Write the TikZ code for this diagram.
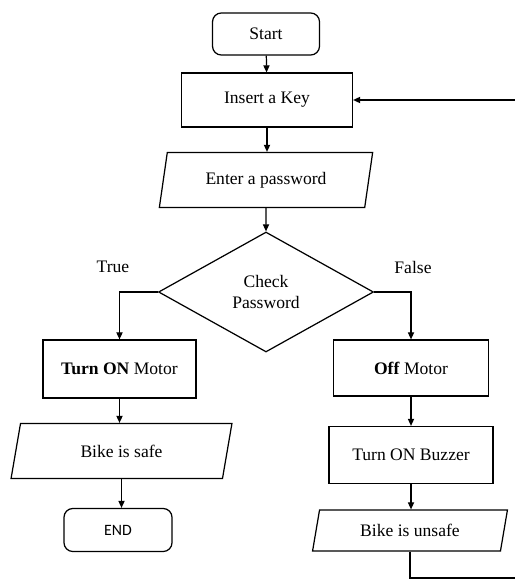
\documentclass[tikz,border=0pt]{standalone}
\usepackage{fontspec}
\setmainfont{Liberation Serif}
\newfontfamily\calibri{Carlito}
\usetikzlibrary{positioning,arrows.meta,shapes.geometric}

\begin{document}
\begin{tikzpicture}[x=0.02cm,y=-0.02cm,line width=0.7pt,
    every node/.style={font=\fontsize{10}{12}\selectfont},
    box/.style={draw,rectangle,inner sep=0},
    term/.style={draw,rectangle,rounded corners=5pt,inner sep=0},
    io/.style={draw,trapezium,trapezium left angle=73,trapezium right angle=107,
      trapezium stretches=true,inner sep=0},
    arr/.style={-{Triangle[length=4pt,width=3.5pt]}}]
  % pixel coordinates, y pointing down
  \useasboundingbox (0,0) rectangle (514,581);

  \node[term,minimum width=2.14cm,minimum height=0.84cm] (start) at (266,34) {Start};
  \node[box,minimum width=3.42cm,minimum height=1.08cm] (key) at (267,100) {Insert a Key};
  \node[io,minimum width=4.28cm,minimum height=1.10cm] (pass) at (266,180) {Enter a password};
  \node[draw,diamond,inner sep=0,minimum width=4.30cm,minimum height=2.40cm,align=center]
    (check) at (266,292) {Check\\Password};
  \node (yes) at (113,267) {True};
  \node (no) at (413,267) {False};

  \node[box,minimum width=3.06cm,minimum height=1.16cm] (on) at (119.5,369) {\textbf{Turn ON} Motor};
  \node[io,minimum width=4.42cm,minimum height=1.10cm] (safe) at (121.5,451) {Bike is safe};
  \node[term,minimum width=2.16cm,minimum height=0.86cm,font=\calibri\fontsize{9}{11}\selectfont]
    (fin) at (118,530) {END};

  \node[box,minimum width=3.10cm,minimum height=1.12cm] (off) at (411,368) {\textbf{Off} Motor};
  \node[box,minimum width=3.28cm,minimum height=1.14cm] (buzz) at (411,455) {Turn ON Buzzer};
  \node[io,minimum width=3.92cm,minimum height=0.82cm] (unsafe) at (410,530.5) {Bike is unsafe};
  \coordinate (loop) at (520,578);

  \draw[arr] (start) -- (key);
  \draw[arr] (key) -- (key.south |- pass.north);
  \draw[arr] (pass) -- (check);
  \draw[arr] (check.west) -| (on.north);
  \draw[arr] (check.east) -| (off.north);
  \draw[arr] (on.south) -- (on.south |- safe.north);
  \draw[arr] (safe.south) -- (safe.south |- fin.north);
  \draw[arr] (off) -- (buzz);
  \draw[arr] (buzz) -- (buzz.south |- unsafe.north);
  \draw[arr] (unsafe.south) |- (loop) |- (key.east);
\end{tikzpicture}
\end{document}
